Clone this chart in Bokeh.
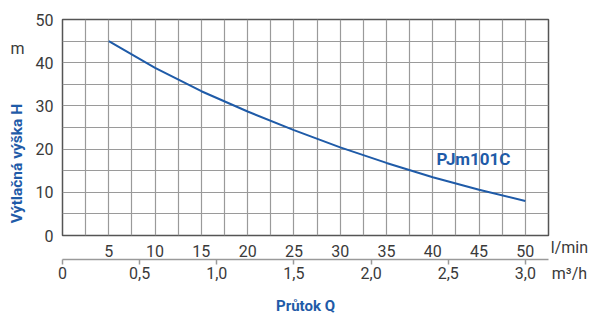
import numpy as np
from math import pi
from bokeh.plotting import figure
from bokeh.models import (LinearAxis, FixedTicker, Range1d, Label,
                          CustomJSTickFormatter)
from bokeh.embed import file_html
from bokeh.resources import INLINE

# data
flow_lmin = [5, 10, 15, 20, 25, 30, 35, 40, 45, 50]
head_m = [45.0, 38.8, 33.4, 28.7, 24.4, 20.4, 16.8, 13.5, 10.6, 8.0]
lmin_ticks = [5, 10, 15, 20, 25, 30, 35, 40, 45, 50]
m3h_ticks = [0, 0.5, 1.0, 1.5, 2.0, 2.5, 3.0]
h_ticks = [0, 10, 20, 30, 40, 50]
series_name = "PJm101C"

BLUE = "#1f5ba8"
TXT = "#3a3a3a"
FONT = "Roboto"

p = figure(frame_width=486, frame_height=216, output_backend="svg",
           toolbar_location=None, x_range=Range1d(0, 52.5), y_range=Range1d(0, 50),
           x_axis_location=None, y_axis_location=None,
           min_border_left=62, min_border_right=44, min_border_top=18,
           min_border_bottom=0)
p.background_fill_color = "white"
p.border_fill_color = "white"
p.outline_line_color = "#555555"
p.outline_line_width = 1.5

# grid
p.xgrid.ticker = FixedTicker(ticks=list(np.arange(0, 52.6, 2.5)))
p.ygrid.ticker = FixedTicker(ticks=list(range(0, 51, 5)))
for g in (p.xgrid, p.ygrid):
    g.grid_line_color = "#9a9a9a"
    g.grid_line_width = 1.2

# y axis
ya = LinearAxis(ticker=FixedTicker(ticks=h_ticks))
ya.axis_line_color = None
ya.major_tick_line_color = None
ya.minor_tick_line_color = None
ya.major_label_standoff = 3
ya.major_label_text_font = FONT
ya.major_label_text_font_size = "16px"
ya.major_label_text_color = TXT
p.add_layout(ya, "left")

# l/min axis
xa = LinearAxis(ticker=FixedTicker(ticks=lmin_ticks))
xa.axis_line_color = None
xa.major_tick_line_color = None
xa.minor_tick_line_color = None
xa.major_label_standoff = 3
xa.major_label_text_font = FONT
xa.major_label_text_font_size = "16px"
xa.major_label_text_color = TXT
p.add_layout(xa, "below")

# m3/h axis
p.extra_x_ranges = {"m3h": Range1d(0, 52.5 * 0.06)}
xb = LinearAxis(x_range_name="m3h", ticker=FixedTicker(ticks=m3h_ticks),
                formatter=CustomJSTickFormatter(
                    code="return tick == 0 ? '0' : tick.toFixed(1).replace('.', ',');"))
xb.axis_line_color = "#9a9a9a"
xb.axis_line_width = 1.5
xb.major_tick_line_color = "#9a9a9a"
xb.major_tick_line_width = 1.5
xb.major_tick_in = 0
xb.major_tick_out = 5
xb.minor_tick_line_color = None
xb.major_label_standoff = 2
xb.major_label_text_font = FONT
xb.major_label_text_font_size = "16px"
xb.major_label_text_color = TXT
xb.axis_label = "Průtok Q"
xb.axis_label_text_font = FONT
xb.axis_label_text_font_style = "bold"
xb.axis_label_text_font_size = "15px"
xb.axis_label_text_color = BLUE
xb.axis_label_standoff = 15
p.add_layout(xb, "below")

# curve
p.line(flow_lmin, head_m, line_color=BLUE, line_width=2)

# annotations
p.add_layout(Label(x=40.4, y=17.6, text=series_name, text_font=FONT,
                   text_font_style="bold", text_font_size="17px",
                   text_color=BLUE, text_baseline="middle"))
p.add_layout(Label(x=52.75, y=-2.7, text="l/min", text_font=FONT,
                   text_font_size="16px", text_color=TXT, text_baseline="middle"),
             "right")
p.add_layout(Label(x=52.85, y=-8.9, text="m³/h", text_font=FONT,
                   text_font_size="16px", text_color=TXT, text_baseline="middle"),
             "above")
p.add_layout(Label(x=-4.85, y=43.2, text="m", text_font=FONT,
                   text_font_size="16px", text_color=TXT, text_baseline="middle",
                   text_align="center"), "left")
p.add_layout(Label(x=-4.92, y=16.66, text="Výtlačná výška H", angle=pi / 2,
                   text_font=FONT, text_font_style="bold", text_font_size="15.5px",
                   text_color=BLUE, text_baseline="middle", text_align="center"),
             "left")

open("out.html", "w").write(file_html(p, INLINE))
